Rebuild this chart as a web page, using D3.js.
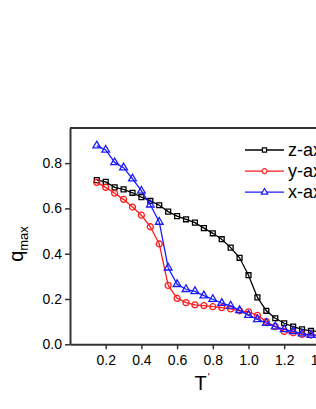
<!DOCTYPE html>
<html lang="en">
  <head>
    <meta charset="UTF-8" />
    <title>q max vs T'</title>
    <style>
      body { margin: 0; background: #fff; }
      svg { display: block; }
      text { font-family: Arial, "Liberation Sans", sans-serif; fill: #000; }
      .axis text { font-size: 14px; }
      .axis path, .axis line { stroke: #333; }
      .axis path { stroke-width: 2px; }
      .axis line { stroke-width: 1.5px; }
      .series path { fill: none; stroke-width: 1.3px; }
      .marker { fill: #fff; stroke-width: 1.2px; }
    </style>
  </head>
  <body>
    <script src="https://cdn.jsdelivr.net/npm/d3@7"></script>
    <script>

      // reduced temperature T'
      var temps = [0.15, 0.2, 0.25, 0.3, 0.35, 0.4, 0.45, 0.5, 0.55, 0.6, 0.65, 0.7, 0.75,
                   0.8, 0.85, 0.9, 0.95, 1.0, 1.05, 1.1, 1.15, 1.2, 1.25, 1.3, 1.35, 1.4];

      // q max for each field direction
      var zAxis = [0.725, 0.717, 0.693, 0.684, 0.669, 0.650, 0.633, 0.614, 0.586, 0.566, 0.552, 0.537, 0.513,
                   0.490, 0.464, 0.427, 0.382, 0.305, 0.207, 0.148, 0.115, 0.093, 0.078, 0.066, 0.059, 0.055];
      var yAxis = [0.715, 0.693, 0.667, 0.640, 0.606, 0.570, 0.519, 0.443, 0.260, 0.203, 0.184, 0.174, 0.171,
                   0.166, 0.162, 0.156, 0.148, 0.143, 0.128, 0.100, 0.078, 0.057, 0.051, 0.044, 0.041, 0.040];
      var xAxis = [0.877, 0.858, 0.803, 0.780, 0.731, 0.677, 0.616, 0.540, 0.338, 0.265, 0.243, 0.234, 0.215,
                   0.199, 0.182, 0.170, 0.150, 0.129, 0.110, 0.094, 0.078, 0.066, 0.057, 0.047, 0.041, 0.040];

      var seriesNames = ["z-axis", "y-axis", "x-axis"];
      var xTicks = [0.2, 0.4, 0.6, 0.8, 1.0, 1.2, 1.4];
      var yTicks = [0.0, 0.2, 0.4, 0.6, 0.8];

      var w = 316, h = 409;
      var padLeft = 70, padTop = 128, padBottom = 344.3;

      var series = [
        { name: seriesNames[0], values: zAxis, color: "#000000", shape: d3.symbolSquare, size: 24 },
        { name: seriesNames[1], values: yAxis, color: "#ff1a1a", shape: d3.symbolCircle, size: 28 },
        { name: seriesNames[2], values: xAxis, color: "#1a1aff", shape: d3.symbolTriangle, size: 26 }
      ];

      var svg = d3.select("body").append("svg")
        .attr("width", w)
        .attr("height", h);

      var xScale = d3.scaleLinear()
        .domain([0, 1.5])
        .range([padLeft, padLeft + 1.5 * 178.5]);

      var yScale = d3.scaleLinear()
        .domain([0, 0.955])
        .range([padBottom, padTop]);

      // frame top line
      svg.append("line")
        .attr("x1", padLeft).attr("x2", xScale(1.5))
        .attr("y1", padTop).attr("y2", padTop)
        .attr("stroke", "#333").attr("stroke-width", 2);

      // x axis
      svg.append("g")
        .attr("class", "axis")
        .attr("transform", "translate(0," + padBottom + ")")
        .call(d3.axisBottom(xScale).tickValues(xTicks).tickFormat(d3.format(".1f"))
          .tickSize(5).tickPadding(6).tickSizeOuter(0));

      // y axis
      svg.append("g")
        .attr("class", "axis")
        .attr("transform", "translate(" + padLeft + ",0)")
        .call(d3.axisLeft(yScale).tickValues(yTicks).tickFormat(d3.format(".1f"))
          .tickSize(5).tickPadding(3).tickSizeOuter(0));

      var line = d3.line()
        .x(function(d, i) { return xScale(temps[i]); })
        .y(function(d) { return yScale(d); });

      // draw lines + markers
      var g = svg.selectAll("g.series")
        .data(series)
        .enter()
        .append("g")
        .attr("class", "series");

      g.append("path")
        .attr("d", function(s) { return line(s.values); })
        .attr("stroke", function(s) { return s.color; });

      g.each(function(s) {
        d3.select(this).selectAll("path.marker")
          .data(s.values)
          .enter()
          .append("path")
          .attr("class", "marker")
          .attr("d", d3.symbol().type(s.shape).size(s.size))
          .attr("stroke", s.color)
          .attr("transform", function(d, i) {
            return "translate(" + xScale(temps[i]) + "," + yScale(d) + ")";
          });
      });

      // legend
      var legend = svg.selectAll("g.legend")
        .data(series)
        .enter()
        .append("g")
        .attr("class", "legend")
        .attr("transform", function(d, i) { return "translate(245," + (150 + i * 21.1) + ")"; });

      legend.append("line")
        .attr("x1", 0).attr("x2", 39)
        .attr("stroke", function(d) { return d.color; })
        .attr("stroke-width", 1.3);

      legend.append("path")
        .attr("class", "marker")
        .attr("d", function(d) { return d3.symbol().type(d.shape).size(d.size * 0.7)(); })
        .attr("stroke", function(d) { return d.color; })
        .attr("transform", "translate(19.5,0)");

      legend.append("text")
        .attr("x", 43)
        .attr("y", 6)
        .style("font-size", "18px")
        .text(function(d) { return d.name; });

      // axis titles
      svg.append("text")
        .attr("x", 202)
        .attr("y", 390)
        .attr("text-anchor", "middle")
        .style("font-size", "20px")
        .text("T")
        .append("tspan")
        .attr("dx", 1)
        .attr("dy", -9)
        .style("font-size", "10px")
        .text("'");

      var ylab = svg.append("text")
        .attr("transform", "translate(23,244) rotate(-90)")
        .attr("text-anchor", "middle")
        .style("font-size", "20px");
      ylab.append("tspan").text("q");
      ylab.append("tspan")
        .attr("dy", 5)
        .style("font-size", "13px")
        .text("max");

    </script>
  </body>
</html>
